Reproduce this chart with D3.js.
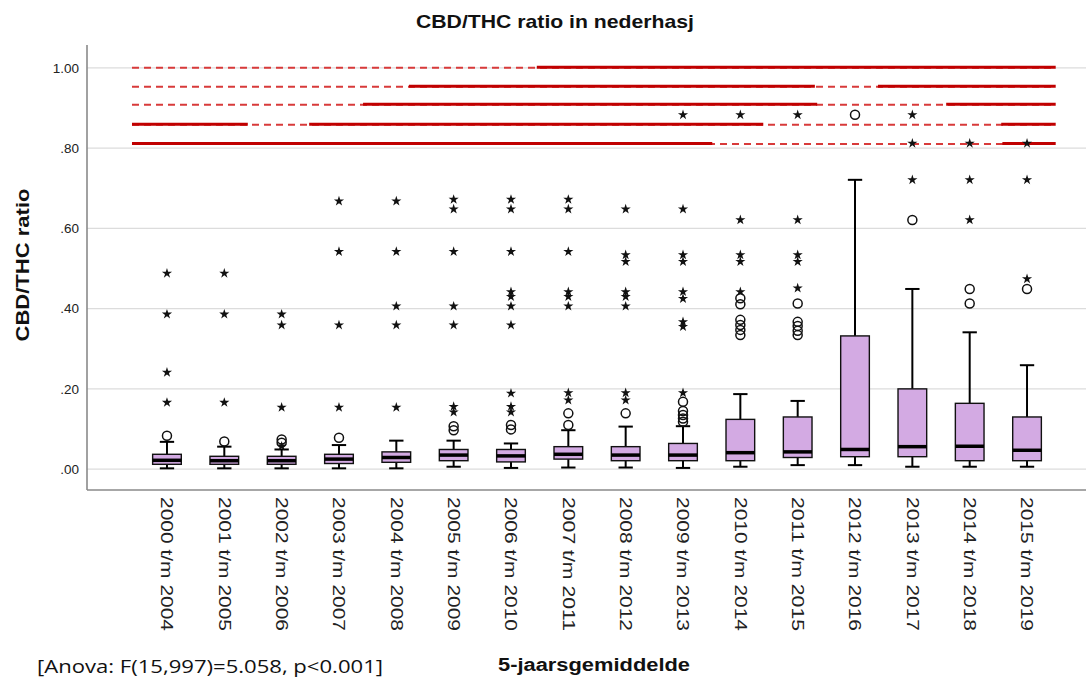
<!DOCTYPE html>
<html>
<head>
<meta charset="utf-8">
<script src="https://cdn.jsdelivr.net/npm/d3@7/dist/d3.min.js"></script>
<style>
  html, body { margin: 0; padding: 0; background: #ffffff; }
  svg { display: block; }
</style>
</head>
<body>
<svg id="chart" width="1091" height="678"></svg>
<script>
// ---------------- DATA ----------------
const categories = [
  "2000 t/m 2004", "2001 t/m 2005", "2002 t/m 2006", "2003 t/m 2007",
  "2004 t/m 2008", "2005 t/m 2009", "2006 t/m 2010", "2007 t/m 2011",
  "2008 t/m 2012", "2009 t/m 2013", "2010 t/m 2014", "2011 t/m 2015",
  "2012 t/m 2016", "2013 t/m 2017", "2014 t/m 2018", "2015 t/m 2019"
];
const whiskerLow  = [0.002, 0.002, 0.002, 0.002, 0.002, 0.006, 0.003, 0.004, 0.004, 0.003, 0.006, 0.010, 0.010, 0.006, 0.006, 0.006];
const q1          = [0.012, 0.012, 0.012, 0.014, 0.017, 0.021, 0.018, 0.025, 0.021, 0.021, 0.021, 0.029, 0.031, 0.031, 0.021, 0.021];
const median      = [0.022, 0.021, 0.021, 0.025, 0.029, 0.035, 0.033, 0.037, 0.035, 0.035, 0.041, 0.043, 0.049, 0.056, 0.057, 0.047];
const q3          = [0.037, 0.032, 0.032, 0.037, 0.043, 0.049, 0.049, 0.056, 0.056, 0.064, 0.124, 0.130, 0.332, 0.200, 0.164, 0.130];
const whiskerHigh = [0.068, 0.056, 0.049, 0.060, 0.071, 0.071, 0.064, 0.097, 0.106, 0.107, 0.187, 0.170, 0.721, 0.449, 0.341, 0.259];
// outliers (circles) and extreme values (stars)
const circleOutliers = [
  [0.083], [0.069], [0.074, 0.066], [0.078], [], [0.107, 0.097],
  [0.110, 0.099], [0.139, 0.110], [0.139], [0.168, 0.145, 0.135, 0.126, 0.118],
  [0.426, 0.411, 0.372, 0.359, 0.347, 0.334], [0.413, 0.367, 0.357, 0.345, 0.334],
  [0.883], [0.621], [0.449, 0.413], [0.449]
];
const starOutliers = [
  [0.488, 0.386, 0.241, 0.166],
  [0.488, 0.386, 0.166],
  [0.386, 0.359, 0.154, 0.057],
  [0.668, 0.542, 0.359, 0.154],
  [0.668, 0.542, 0.406, 0.359, 0.154],
  [0.672, 0.648, 0.542, 0.406, 0.359, 0.156, 0.142],
  [0.672, 0.648, 0.542, 0.442, 0.430, 0.406, 0.359, 0.189, 0.156, 0.142],
  [0.672, 0.648, 0.542, 0.442, 0.430, 0.406, 0.190, 0.172],
  [0.648, 0.534, 0.517, 0.442, 0.430, 0.406, 0.190, 0.172],
  [0.883, 0.648, 0.534, 0.517, 0.442, 0.425, 0.367, 0.355, 0.190],
  [0.883, 0.621, 0.534, 0.517, 0.442],
  [0.883, 0.621, 0.534, 0.517, 0.451],
  [],
  [0.883, 0.812, 0.721],
  [0.812, 0.721, 0.621],
  [0.812, 0.721, 0.474]
];
const yTicks = [0, 0.2, 0.4, 0.6, 0.8, 1.0];
const yTickLabels = [".00", ".20", ".40", ".60", ".80", "1.00"];
// significance annotation rows (value level) and span in category-index units
const sigRowValues = [1.000, 0.953, 0.908, 0.858, 0.810];
const sigSpan = [-0.61, 15.5];
// solid segments per row [fromIndex, toIndex]
const sigSolidSegments = [
  [[6.45, 15.5]],
  [[4.22, 11.30], [12.40, 15.5]],
  [[3.42, 11.34], [13.59, 15.5]],
  [[-0.61, 1.41], [2.48, 10.40], [14.55, 15.5]],
  [[-0.61, 9.51], [14.57, 15.5]]
];

const titleText = "CBD/THC ratio in nederhasj";
const yTitle = "CBD/THC ratio";
const xTitle = "5-jaarsgemiddelde";
const noteText = "[Anova: F(15,997)=5.058, p<0.001]";

// ---------------- LAYOUT ----------------
const svg = d3.select("#chart");
const plotLeft = 87, plotRight = 1086, plotTop = 45, plotBottom = 490;
const font = "'Liberation Sans', Arial, sans-serif";

const y = d3.scaleLinear().domain([-0.052, 1.057]).range([plotBottom, plotTop]);
const x = d3.scaleBand().domain(categories).range([138.3, 1055.7]).padding(0);
const bw = x.bandwidth();
const cx = c => x(c) + bw / 2;
const xIdx = d3.scaleLinear().domain([0, categories.length - 1])
  .range([cx(categories[0]), cx(categories[categories.length - 1])]);

// gridlines
svg.append("g")
  .selectAll("line").data(yTicks).join("line")
  .attr("x1", plotLeft).attr("x2", plotRight)
  .attr("y1", d => y(d)).attr("y2", d => y(d))
  .attr("stroke", "#dcdcdc").attr("stroke-width", 1.2);

// y axis
const yAxis = d3.axisLeft(y).tickValues(yTicks)
  .tickFormat((d, i) => yTickLabels[i]).tickSize(0).tickPadding(8);
const gy = svg.append("g").attr("transform", `translate(${plotLeft},0)`).call(yAxis);
gy.select(".domain").remove();
gy.selectAll("text").attr("font-family", font).attr("font-size", 13.5).attr("fill", "#222");

// x axis
const xAxis = d3.axisBottom(x).tickSize(0);
const gx = svg.append("g").attr("transform", `translate(0,${plotBottom})`).call(xAxis);
gx.select(".domain").remove();
gx.selectAll("text")
  .attr("font-family", font).attr("font-size", 16).attr("fill", "#222")
  .attr("transform", "rotate(90)")
  .attr("x", 7).attr("y", 0).attr("dy", "0.35em")
  .attr("text-anchor", "start")
  .attr("textLength", 134).attr("lengthAdjust", "spacingAndGlyphs");

// frame lines
svg.append("line").attr("x1", plotLeft).attr("x2", plotLeft)
  .attr("y1", plotTop).attr("y2", plotBottom)
  .attr("stroke", "#8a8a8a").attr("stroke-width", 1.6);
svg.append("line").attr("x1", plotLeft).attr("x2", plotRight)
  .attr("y1", plotBottom).attr("y2", plotBottom)
  .attr("stroke", "#8a8a8a").attr("stroke-width", 1.6);

// significance lines: dashed full span then solid segments
const sig = svg.append("g");
sig.selectAll("line.dash").data(sigRowValues).join("line")
  .attr("class", "dash")
  .attr("x1", xIdx(sigSpan[0])).attr("x2", xIdx(sigSpan[1]))
  .attr("y1", d => y(d)).attr("y2", d => y(d))
  .attr("stroke", "#d83a3a").attr("stroke-width", 2)
  .attr("stroke-dasharray", "7,5");
sigSolidSegments.forEach((segs, r) => {
  sig.selectAll(null).data(segs).join("line")
    .attr("x1", d => xIdx(d[0])).attr("x2", d => xIdx(d[1]))
    .attr("y1", y(sigRowValues[r]) - 0.5).attr("y2", y(sigRowValues[r]) - 0.5)
    .attr("stroke", "#c00000").attr("stroke-width", 3);
});

// boxes
const boxes = svg.append("g");
categories.forEach((c, i) => {
  const xc = cx(c);
  const g = boxes.append("g");
  const capW = bw * 0.25, boxW = bw * 0.5;
  g.append("line").attr("x1", xc).attr("x2", xc)
    .attr("y1", y(q3[i])).attr("y2", y(whiskerHigh[i]))
    .attr("stroke", "#000").attr("stroke-width", 2);
  g.append("line").attr("x1", xc).attr("x2", xc)
    .attr("y1", y(q1[i])).attr("y2", y(whiskerLow[i]))
    .attr("stroke", "#000").attr("stroke-width", 2);
  g.append("line").attr("x1", xc - capW / 2).attr("x2", xc + capW / 2)
    .attr("y1", y(whiskerHigh[i])).attr("y2", y(whiskerHigh[i]))
    .attr("stroke", "#000").attr("stroke-width", 2);
  g.append("line").attr("x1", xc - capW / 2).attr("x2", xc + capW / 2)
    .attr("y1", y(whiskerLow[i])).attr("y2", y(whiskerLow[i]))
    .attr("stroke", "#000").attr("stroke-width", 2);
  g.append("rect").attr("x", xc - boxW / 2).attr("width", boxW)
    .attr("y", y(q3[i])).attr("height", y(q1[i]) - y(q3[i]))
    .attr("fill", "#d3aae3").attr("stroke", "#111").attr("stroke-width", 1.4);
  g.append("line").attr("x1", xc - boxW / 2).attr("x2", xc + boxW / 2)
    .attr("y1", y(median[i])).attr("y2", y(median[i]))
    .attr("stroke", "#000").attr("stroke-width", 3.5);
});

// outliers
const pts = svg.append("g");
categories.forEach((c, i) => {
  const xc = cx(c);
  pts.selectAll(null).data(circleOutliers[i]).join("circle")
    .attr("cx", xc).attr("cy", d => y(d)).attr("r", 4.5)
    .attr("fill", "none").attr("stroke", "#111").attr("stroke-width", 1.5);
  pts.selectAll(null).data(starOutliers[i]).join("path")
    .attr("d", d3.symbol(d3.symbolStar, 32))
    .attr("transform", d => `translate(${xc},${y(d)})`)
    .attr("fill", "#111");
});

// titles
svg.append("text").attr("x", 555).attr("y", 28)
  .attr("text-anchor", "middle").attr("font-family", font)
  .attr("font-weight", "bold").attr("font-size", 19).attr("fill", "#111")
  .attr("textLength", 278).attr("lengthAdjust", "spacingAndGlyphs")
  .text(titleText);

svg.append("text")
  .attr("transform", `translate(29,265) rotate(-90)`)
  .attr("text-anchor", "middle").attr("font-family", font)
  .attr("font-weight", "bold").attr("font-size", 19).attr("fill", "#111")
  .attr("textLength", 153).attr("lengthAdjust", "spacingAndGlyphs")
  .text(yTitle);

svg.append("text").attr("x", 594).attr("y", 671)
  .attr("text-anchor", "middle").attr("font-family", font)
  .attr("font-weight", "bold").attr("font-size", 18).attr("fill", "#111")
  .attr("textLength", 192).attr("lengthAdjust", "spacingAndGlyphs")
  .text(xTitle);

svg.append("text").attr("x", 37).attr("y", 673)
  .attr("font-family", "'Open Sans', 'Noto Sans', sans-serif")
  .attr("font-size", 19).attr("fill", "#111")
  .attr("textLength", 346).attr("lengthAdjust", "spacingAndGlyphs")
  .text(noteText);
</script>
</body>
</html>
